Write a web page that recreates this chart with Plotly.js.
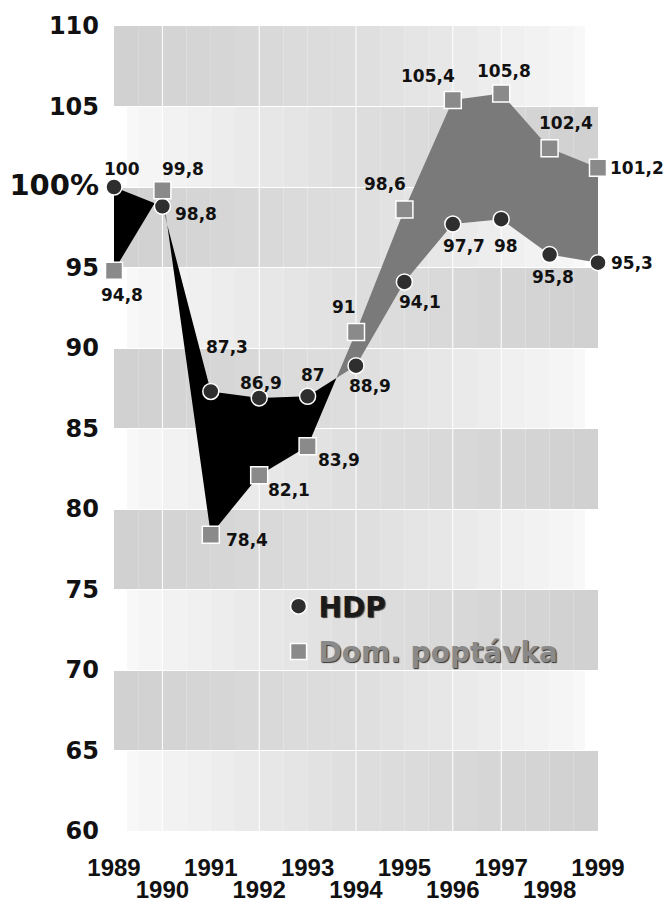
<!DOCTYPE html>
<html><head><meta charset="utf-8">
<script src="https://cdn.plot.ly/plotly-3.0.1.min.js"></script>
<style>html,body{margin:0;padding:0;background:#fff}</style>
</head><body><div id="chart" style="width:666px;height:902px"></div>
<script>
// ---------- data ----------
const years = [1989, 1990, 1991, 1992, 1993, 1994, 1995, 1996, 1997, 1998, 1999];
const hdp = [100, 98.8, 87.3, 86.9, 87, 88.9, 94.1, 97.7, 98, 95.8, 95.3];
const domPoptavka = [94.8, 99.8, 78.4, 82.1, 83.9, 91, 98.6, 105.4, 105.8, 102.4, 101.2];
const seriesNames = ['HDP', 'Dom. poptávka'];
const yTickVals = [60, 65, 70, 75, 80, 85, 90, 95, 100, 105, 110];
const yTickText = ['60', '65', '70', '75', '80', '85', '90', '95', '<span style="font-size:29px">100%</span>', '105', '110'];
const xTickText = years.map(String);

// ---------- styles (label offsets in px: [dx, dy], dy down) ----------
const hdpLabelOffsets = [[8,-18],[34,8],[16,-44],[2,-15],[5,-21],[14,20],[16,20],[11,22],[5,27],[3,22],[34,0]];
const dpLabelOffsets  = [[8,24],[21,-21],[36,5],[30,15],[31,14],[-12,-25],[-19,-26],[-25,-24],[3,-23],[16,-25],[39,0]];
const stripBoundaries = [1990, 1992, 1994, 1996, 1997];

const fmt = v => String(v).replace('.', ',');

// crossing-augmented series for the fills
function withCrossings(xs, a, b) {
  const X = [], A = [], B = [];
  for (let i = 0; i < xs.length; i++) {
    X.push(xs[i]); A.push(a[i]); B.push(b[i]);
    if (i < xs.length - 1) {
      const d0 = a[i] - b[i], d1 = a[i+1] - b[i+1];
      if (d0 * d1 < 0) {
        const t = d0 / (d0 - d1);
        const xc = xs[i] + t * (xs[i+1] - xs[i]);
        const yc = a[i] + t * (a[i+1] - a[i]);
        X.push(xc); A.push(yc); B.push(yc);
      }
    }
  }
  return {X, A, B};
}
const cr = withCrossings(years, hdp, domPoptavka);
const lo = cr.A.map((v, i) => Math.min(v, cr.B[i]));

const noHover = {hoverinfo: 'skip', showlegend: false};
const traces = [
  Object.assign({x: cr.X, y: lo, mode: 'lines', line: {width: 0}}, noHover),
  Object.assign({x: cr.X, y: cr.A, mode: 'lines', line: {width: 0}, fill: 'tonexty', fillcolor: '#000000'}, noHover),
  Object.assign({x: cr.X, y: lo, mode: 'lines', line: {width: 0}}, noHover),
  Object.assign({x: cr.X, y: cr.B, mode: 'lines', line: {width: 0}, fill: 'tonexty', fillcolor: '#7a7a7a'}, noHover),
  {x: years, y: hdp, name: seriesNames[0], mode: 'markers', cliponaxis: false, hoverinfo: 'skip',
   marker: {symbol: 'circle', size: 16, color: '#2e2e2e', line: {color: '#ffffff', width: 1.5}},
   legendgroup: 'a'},
  {x: years, y: domPoptavka, name: '<span style="color:#8a8a8a">' + seriesNames[1] + '</span>', mode: 'markers', cliponaxis: false, hoverinfo: 'skip',
   marker: {symbol: 'square', size: 17, color: '#8a8a8a', line: {color: '#ffffff', width: 1.5}},
   legendgroup: 'b'}
];

// ---------- background bands (halftone-like gradient) ----------
const shapes = [];
const x0 = years[0], x1 = years[years.length - 1], xm = (x0 + x1) / 2;
const stripW = 0.5, edgeInset = 0.27;
const gray = g => { const h = Math.round(g).toString(16).padStart(2, '0'); return '#' + h + h + h; };
for (let sx = x0; sx < x1 - 1e-9; sx += stripW) {
  const c = sx + stripW / 2;
  const s = (c - xm) / (xm - x0);
  const k = Math.abs(s);
  for (let j = 0; j < yTickVals.length - 1; j++) {
    const y0 = yTickVals[j], y1 = yTickVals[j + 1];
    const darkBand = (s < 0) ? (j % 2 === 1) : (j % 2 === 0);
    let xa = sx, xb = sx + stripW;
    let col;
    if (darkBand) col = gray(222 - 14 * k);
    else {
      col = gray(222 + 27 * k);
      if (xa < x0 + edgeInset) xa = x0 + edgeInset;
      if (xb > x1 - edgeInset) xb = x1 - edgeInset;
    }
    shapes.push({type: 'rect', xref: 'x', yref: 'y', x0: xa, x1: xb, y0: y0, y1: y1,
      fillcolor: col, line: {width: 0}, layer: 'below'});
  }
}
stripBoundaries.forEach(v => shapes.push({type: 'line', xref: 'x', yref: 'y', x0: v, x1: v,
  y0: yTickVals[0], y1: yTickVals[yTickVals.length - 1], line: {color: '#ffffff', width: 1}, layer: 'below'}));

// ---------- value labels ----------
const labelFont = {family: 'DejaVu Sans', size: 17, weight: 'bold', color: '#111111'};
const annotations = [];
years.forEach((yr, i) => {
  annotations.push({x: yr, y: hdp[i], xref: 'x', yref: 'y', text: fmt(hdp[i]), showarrow: false,
    xshift: hdpLabelOffsets[i][0], yshift: -hdpLabelOffsets[i][1], font: labelFont});
  annotations.push({x: yr, y: domPoptavka[i], xref: 'x', yref: 'y', text: fmt(domPoptavka[i]), showarrow: false,
    xshift: dpLabelOffsets[i][0], yshift: -dpLabelOffsets[i][1], font: labelFont});
});

const tickFontX = {family: 'Liberation Sans', size: 24, weight: 'bold', color: '#111111'};
const layout = {
  width: 666, height: 902,
  margin: {l: 114, r: 68, t: 26, b: 71, pad: 0},
  paper_bgcolor: '#ffffff', plot_bgcolor: '#ffffff',
  hovermode: false,
  showlegend: true,
  legend: {x: 0.34, xanchor: 'left', y: 0.31, yanchor: 'top', bgcolor: 'rgba(0,0,0,0)',
    font: {family: 'DejaVu Sans', size: 28, weight: 'bold', color: '#1a1a1a', shadow: '1px 1px 1px #333'},
    itemsizing: 'trace', traceorder: 'grouped', tracegroupgap: 6},
  xaxis: {range: [x0, x1], tickmode: 'array',
    tickvals: years.filter((y, i) => i % 2 === 0), ticktext: xTickText.filter((y, i) => i % 2 === 0),
    showgrid: false, zeroline: false, showline: false, ticks: '', tickfont: tickFontX, ticklabelstandoff: 20},
  xaxis2: {range: [x0, x1], overlaying: 'x', anchor: 'y', side: 'bottom', tickmode: 'array',
    tickvals: years.filter((y, i) => i % 2 === 1), ticktext: xTickText.filter((y, i) => i % 2 === 1),
    showgrid: false, zeroline: false, showline: false, ticks: '', tickfont: tickFontX, ticklabelstandoff: 42},
  yaxis: {range: [yTickVals[0], yTickVals[yTickVals.length - 1]], tickmode: 'array', tickvals: yTickVals, ticktext: yTickText,
    showgrid: true, gridcolor: '#ffffff', gridwidth: 1, zeroline: false, showline: false, ticks: '',
    tickfont: {family: 'DejaVu Sans', size: 24, weight: 'bold', color: '#111111'}, ticklabelstandoff: 14},
  shapes: shapes,
  annotations: annotations
};
// invisible trace so that xaxis2 draws its ticks
traces.push({x: [x0], y: [yTickVals[0]], xaxis: 'x2', mode: 'markers', marker: {opacity: 0}, showlegend: false, hoverinfo: 'skip'});

Plotly.newPlot('chart', traces, layout, {displayModeBar: false, staticPlot: true});
</script></body></html>
